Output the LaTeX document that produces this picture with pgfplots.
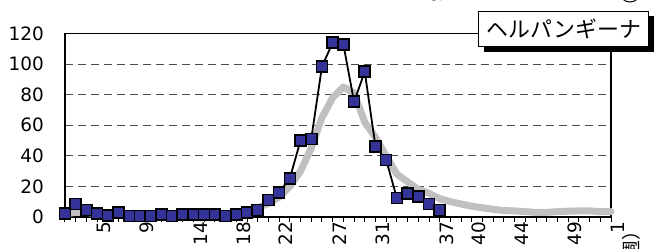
\documentclass[border=0pt]{standalone}
\usepackage{pgfplots}
\pgfplotsset{compat=1.18}
\usepackage{fontspec}
\setmainfont{DejaVu Sans}
\newfontfamily\jp{Noto Sans CJK JP}
\definecolor{mk}{RGB}{51,51,153}
\definecolor{band}{RGB}{192,192,192}
\begin{document}
\begin{tikzpicture}[x=1bp,y=1bp]
\begin{axis}[at={(0,0)}, anchor=origin, scale only axis,
  width=546bp, height=183.5bp,
  xmin=0, xmax=51, ymin=0, ymax=120,
  axis line style={line width=1.4bp},
  ytick={0,20,...,120},
  ymajorgrids,
  grid style={dash pattern=on 8bp off 5bp, black!70, line width=0.8bp},
  major y tick style={draw=none},
  xtick={3,7,12,16,20,25,29,35,38,42,47,51},
  xticklabels={5,9,14,18,22,27,31,37,40,44,49,1},
  minor xtick={0,...,51},
  xtick pos=bottom, tick align=outside,
  major tick length=5bp, minor tick length=5bp,
  every tick/.style={black, line width=1bp},
  tick label style={font=\fontsize{18.5}{18.5}\selectfont},
  x tick label style={rotate=90, anchor=east, inner sep=0pt, yshift=-7bp},
  y tick label style={anchor=east, inner sep=0pt, xshift=-16bp},
  /pgf/number format/assume math mode=true,
  clip=false,
]
\addplot[band, line width=7bp, line join=round, line cap=round] coordinates {
(0,2)(1,3)(2,3)(3,2)(4,2)(5,2)(6,1)(7,1)(8,1)(9,1)(10,1)(11,1)(12,1)(13,1)(14,1)
(15,1.5)(16,2.5)(17,4)(18,6)(19,9)(20,13)(21,20)(22,30)(23,45)(24,65)(25,78)(26,85)
(27,81)(28,62)(29,52)(30,40)(31,28)(32,23)(33,18)(34,15.5)(35,12)(36,10)(37,8.5)
(38,7)(39,6)(40,5)(41,4.2)(42,4)(43,3.5)(44,3)(45,3)(46,3.5)(47,3.8)(48,4)(49,4)
(50,3.5)(51,3.5)};
\addplot[black, line width=1.8bp, mark=square*, mark size=5.5bp,
  mark options={fill=mk, draw=black, line width=1.6bp}] coordinates {
(0,2.4)(1,8.5)(2,4.6)(3,2.4)(4,1.1)(5,3.1)(6,0.7)(7,0.7)(8,0.7)(9,1.5)(10,0.7)
(11,1.5)(12,1.5)(13,1.5)(14,1.5)(15,0.7)(16,1.5)(17,2.8)(18,4.6)(19,11)(20,16)
(21,25.3)(22,50)(23,51)(24,98.3)(25,114)(26,113)(27,75.4)(28,95)(29,46.2)
(30,37.3)(31,12.4)(32,15.5)(33,13.5)(34,8.5)(35,4.6)};
\end{axis}
\begin{scope}[shift={(-65bp,-32bp)}]
\fill[black] (484,197.3) rectangle (653.7,233);
\draw[fill=white, line width=1bp] (479,202.3) rectangle (648.7,238);
\node[font=\jp\fontsize{22}{22}\selectfont, inner sep=0] at (564,220.5) {ヘルパンギーナ};
\node[rotate=90, anchor=east, inner sep=0, font=\jp\fontsize{19}{19}\selectfont] at (631,28) {（週）};
\node[rotate=-90, font=\fontsize{19}{19}\selectfont] at (437,252) {3};
\draw[line width=1bp] (630,258) circle (11);
\end{scope}
\pgfresetboundingbox
\path[use as bounding box] (-65bp,-32bp) rectangle (592bp,217bp);
\end{tikzpicture}
\end{document}
